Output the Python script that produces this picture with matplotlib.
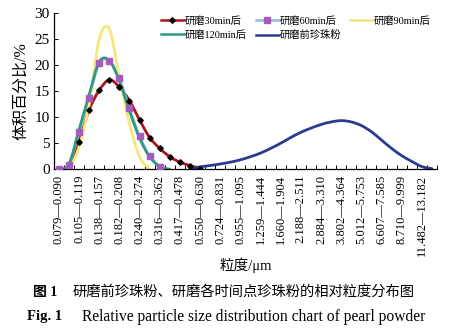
import numpy as np
import matplotlib
matplotlib.use("Agg")
import matplotlib.pyplot as plt
from matplotlib.path import Path
from matplotlib.patches import PathPatch
from matplotlib.lines import Line2D

plt.rcParams['font.family'] = ['Liberation Serif', 'Noto Sans CJK SC', 'DejaVu Sans']

# particle size bin edges (um); categories are edge[i]-edge[i+1]
edges = ["0.079", "0.090", "0.105", "0.119", "0.138", "0.157", "0.182", "0.208",
         "0.240", "0.274", "0.316", "0.362", "0.417", "0.478", "0.550", "0.630",
         "0.724", "0.831", "0.955", "1.095", "1.259", "1.444", "1.660", "1.904",
         "2.188", "2.511", "2.884", "3.310", "3.802", "4.364", "5.012", "5.753",
         "6.607", "7.585", "8.710", "9.999", "11.482", "13.182"]
n_cat = 38

# volume percent per category (start index, values)
grind30 = [0, 0.3, 5.3, 11.4, 15.2, 17.2, 15.8, 13.2, 9.5, 6.1, 4.0, 2.4, 1.35, 0.7, 0.0]
grind60 = [0, 0.8, 7.2, 13.8, 20.4, 20.9, 17.5, 11.7, 6.3, 2.5, 0.5]
grind90 = [0, 0.2, 4.3, 12.4, 25.0, 27.0, 17.8, 8.8, 2.4, 0.0]
grind120 = [0, 1.0, 7.6, 14.3, 20.7, 20.9, 17.0, 11.2, 6.0, 2.4, 0.5, 0.0]
raw_start = 13
raw = [0.1, 0.45, 0.7, 1.0, 1.35, 1.8, 2.4, 3.1, 4.0, 5.0, 6.1, 7.1, 7.9, 8.6,
       9.1, 9.35, 9.1, 8.4, 7.2, 5.6, 4.0, 2.6, 1.5, 0.5, 0.1]

names = ["研磨30min后", "研磨60min后", "研磨90min后", "研磨120min后", "研磨前珍珠粉"]
colors = ["#ab1419", "#8fb8e6", "#f6e77c", "#2f9a82", "#2a3a8f"]


def smooth_path(x, y):
    # excel-like smoothed line: cubic bezier through the points
    x = np.asarray(x, float)
    y = np.asarray(y, float)
    pts = np.column_stack([x, y])
    verts = [pts[0]]
    codes = [Path.MOVETO]
    for i in range(len(pts) - 1):
        p0 = pts[i - 1] if i > 0 else pts[i]
        p1 = pts[i]
        p2 = pts[i + 1]
        p3 = pts[i + 2] if i + 2 < len(pts) else pts[i + 1]
        c1 = p1 + (p2 - p0) / 6
        c2 = p2 - (p3 - p1) / 6
        verts += [c1, c2, p2]
        codes += [Path.CURVE4] * 3
    return Path(verts, codes)


fig = plt.figure(figsize=(4.6, 3.35), dpi=100)
ax = fig.add_axes([0.117, 0.495, 0.833, 0.465])

series = [(0, grind30), (0, grind60), (0, grind90), (0, grind120), (raw_start, raw)]
for k, (s, vals) in enumerate(series):
    xs = np.arange(s, s + len(vals))
    ax.add_patch(PathPatch(smooth_path(xs, vals), fill=False, edgecolor=colors[k],
                           lw=2.0, zorder=2 + k * 0.1, capstyle='round'))

ax.plot(np.arange(len(grind30)), grind30, ls='none', marker='D', ms=2.8,
        color='black', zorder=5)
ax.plot(np.arange(len(grind60)), grind60, ls='none', marker='s', ms=3.8,
        color='#a35db8', zorder=5)

ax.set_xlim(-0.5, n_cat - 0.5)
ax.set_ylim(0, 30)
ax.set_yticks(range(0, 31, 5))
labels = [edges[i] + "—" + edges[i + 1] for i in range(0, len(edges) - 1, 2)]
ax.set_xticks(range(0, len(edges) - 1, 2))
ax.set_xticklabels(labels, rotation=90, fontsize=9)
ax.set_xticks(np.arange(-0.5, n_cat, 1), minor=True)
ax.tick_params(axis='x', which='major', length=0, pad=4)
ax.tick_params(axis='x', which='minor', direction='in', length=3, width=0.7)
ax.tick_params(axis='y', direction='in', length=3, width=0.7, labelsize=11, pad=3)
for sp in ['top', 'right']:
    ax.spines[sp].set_visible(False)
for sp in ['left', 'bottom']:
    ax.spines[sp].set_linewidth(0.9)

ax.set_ylabel("体积百分比/%", fontsize=11.5, labelpad=4)
ax.set_xlabel("粒度/μm", fontsize=10.5, labelpad=1)

handles = [
    Line2D([], [], color=colors[0], lw=1.8, marker='D', ms=2.8, mfc='black', mec='black'),
    Line2D([], [], color=colors[1], lw=1.8, marker='s', ms=3.8, mfc='#a35db8', mec='#a35db8'),
    Line2D([], [], color=colors[2], lw=1.8),
    Line2D([], [], color=colors[3], lw=1.8),
    Line2D([], [], color=colors[4], lw=1.8),
]
order = [0, 3, 1, 4, 2]
ax.legend([handles[i] for i in order], [names[i] for i in order], ncol=3,
          loc='upper right', bbox_to_anchor=(1.0, 1.025), frameon=False,
          fontsize=7.4, handlelength=2.2, handletextpad=0.1, columnspacing=0.9,
          labelspacing=0.45, borderaxespad=0.2)

fig.text(0.072, 0.128, "图 1", fontsize=10, fontweight='bold', ha='left', va='center')
fig.text(0.158, 0.128, "研磨前珍珠粉、研磨各时间点珍珠粉的相对粒度分布图", fontsize=10.3,
         ha='left', va='center')
fig.text(0.058, 0.054, "Fig. 1", fontsize=10.5, fontweight='bold', ha='left', va='center')
fig.text(0.178, 0.054, "Relative particle size distribution chart of pearl powder",
         fontsize=11.2, ha='left', va='center')

fig.savefig("out.png", dpi=100)
